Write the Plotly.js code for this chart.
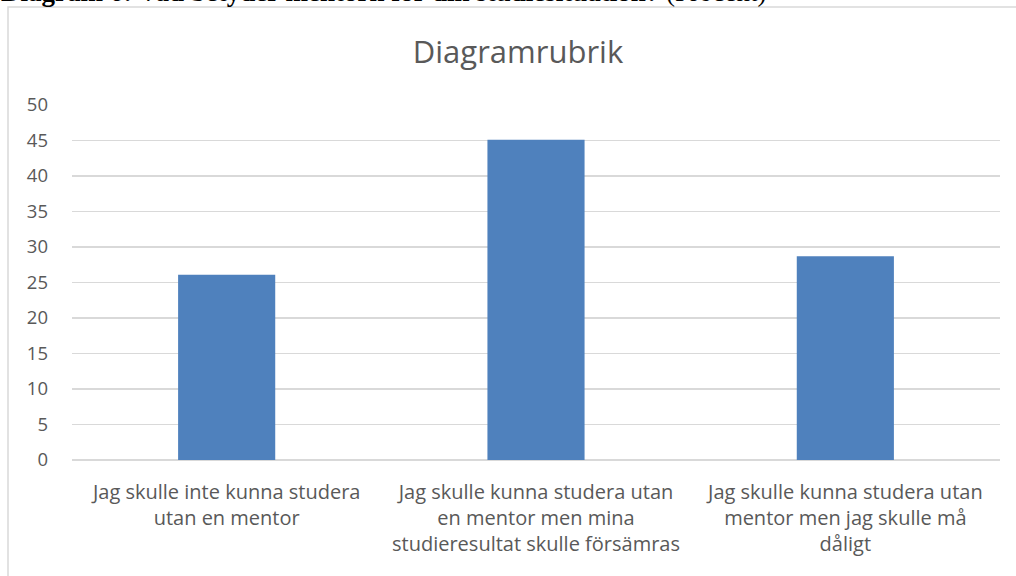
<!DOCTYPE html>
<html><head><meta charset="utf-8">
<script src="https://cdn.plot.ly/plotly-3.0.1.min.js"></script>
<style>html,body{margin:0;padding:0;background:#fff;}#chart{width:1016px;height:576px;}</style>
</head><body><div id="chart"></div>
<script>
const categories = [
  "Jag skulle inte kunna studera<br>utan en mentor",
  "Jag skulle kunna studera utan<br>en mentor men mina<br>studieresultat skulle försämras",
  "Jag skulle kunna studera utan<br>mentor men jag skulle må<br>dåligt"
];
const values = [26.1, 45.1, 28.7];
const yTicks = [0, 5, 10, 15, 20, 25, 30, 35, 40, 45, 50];

const W = 1016, H = 576, L = 72, R = 16, T = 105, B = 116;
const pw = W - L - R, ph = H - T - B;
const px = x => (x - L) / pw;
const py = y => (H - B - y) / ph;

const font = "Open Sans, sans-serif";
const txt = "#595959";

Plotly.newPlot("chart", [{
  type: "bar",
  x: categories,
  y: values,
  marker: {color: "#4f81bd"},
  hoverinfo: "none"
}], {
  width: W, height: H,
  margin: {l: L, r: R, t: T, b: B, pad: 0},
  paper_bgcolor: "#fff", plot_bgcolor: "#fff",
  bargap: 0.686,
  showlegend: false,
  title: {text: "Diagramrubrik", font: {family: font, size: 31, color: txt}, x: 518 / W, xanchor: "center", y: 1 - 52/H, yanchor: "middle"},
  xaxis: {
    type: "category",
    tickfont: {family: font, size: 20, color: txt},
    showgrid: false, showline: false, zeroline: false,
    ticks: "", ticklabelstandoff: 18, automargin: false
  },
  yaxis: {
    range: [0, 50],
    tickvals: yTicks, ticktext: yTicks.map(String),
    tickfont: {family: font, size: 18.5, color: txt},
    showgrid: true, gridcolor: "#d9d9d9", gridwidth: 1.3,
    zeroline: true, zerolinecolor: "#d9d9d9", zerolinewidth: 1.3,
    showline: false, ticks: "", ticklabelstandoff: 23, automargin: false
  },
  shapes: [{
    type: "rect", xref: "paper", yref: "paper",
    x0: px(8), x1: px(1030), y0: py(590), y1: py(7),
    line: {color: "#d9d9d9", width: 1.5}, fillcolor: "rgba(0,0,0,0)", layer: "below"
  }],
  annotations: [{
    xref: "paper", yref: "paper", x: px(-1), y: py(9), xanchor: "left", yanchor: "bottom",
    text: "<b>Diagram 6: Vad betyder mentorn för din studiesituation?</b> (Procent)",
    showarrow: false, font: {family: "Liberation Serif, Times New Roman, serif", size: 27, color: "#000"}
  }]
}, {staticPlot: true});
</script></body></html>
